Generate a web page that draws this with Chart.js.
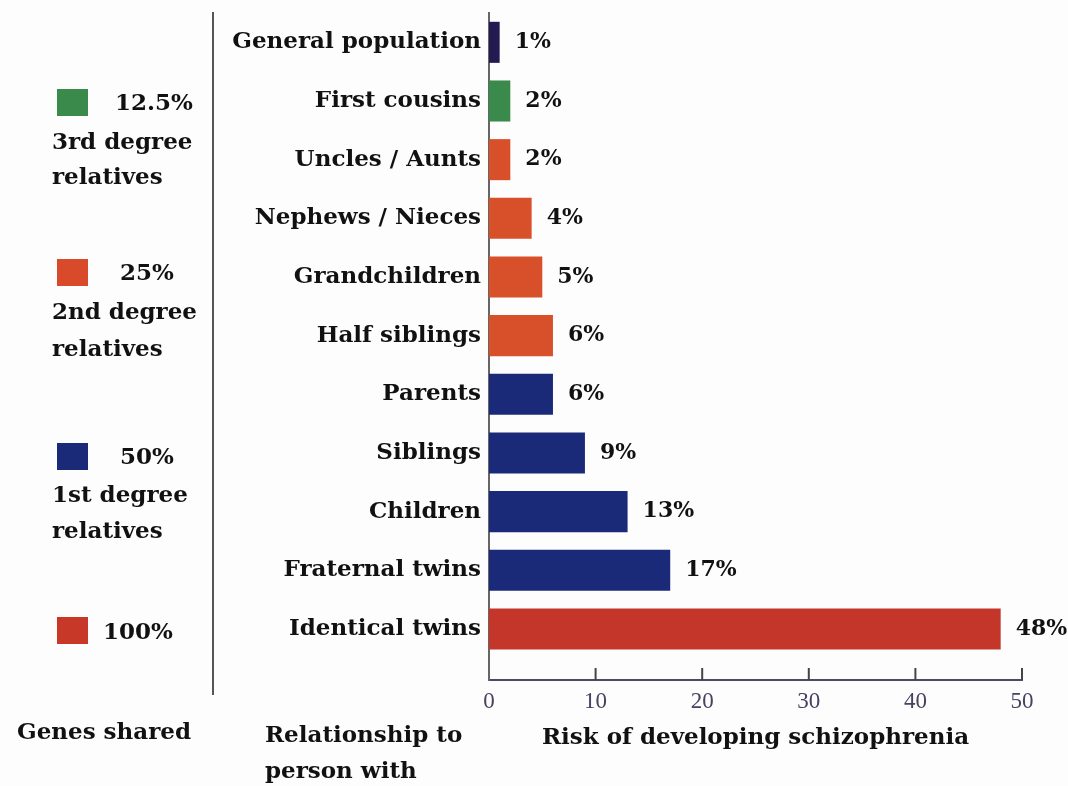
<!DOCTYPE html>
<html>
<head>
<meta charset="utf-8">
<script src="https://cdn.jsdelivr.net/npm/chart.js@4"></script>
<style>
  body { margin: 0; background: #fdfdfd; }
  #wrap { position: relative; width: 1068px; height: 786px; }
  #chart { position: absolute; left: 0; top: 0; }
  .txt { position: absolute; font: bold 23px "DejaVu Serif", serif; color: #111; white-space: nowrap; line-height: 1; }
  .sq { position: absolute; width: 31px; height: 27px; }
  #sep { position: absolute; left: 212px; top: 12px; width: 2px; height: 683px; background: #555; }
</style>
</head>
<body>
<div id="wrap">
  <canvas id="chart" width="1068" height="786"></canvas>
  <div id="sep"></div>

  <div class="sq" style="left:57px;top:89px;background:#3a8a4c"></div>
  <div class="txt" style="left:115px;top:90px">12.5%</div>
  <div class="txt" style="left:52px;top:129px">3rd degree</div>
  <div class="txt" style="left:52px;top:164px">relatives</div>

  <div class="sq" style="left:57px;top:259px;background:#d84a2a"></div>
  <div class="txt" style="left:120px;top:260px">25%</div>
  <div class="txt" style="left:52px;top:299px">2nd degree</div>
  <div class="txt" style="left:52px;top:336px">relatives</div>

  <div class="sq" style="left:57px;top:443px;background:#1a2a78"></div>
  <div class="txt" style="left:120px;top:444px">50%</div>
  <div class="txt" style="left:52px;top:482px">1st degree</div>
  <div class="txt" style="left:52px;top:518px">relatives</div>

  <div class="sq" style="left:57px;top:617px;background:#c83828"></div>
  <div class="txt" style="left:103px;top:619px">100%</div>

  <div class="txt" style="left:17px;top:719px">Genes shared</div>
  <div class="txt" style="left:265px;top:722px">Relationship to</div>
  <div class="txt" style="left:265px;top:758px">person with</div>
</div>
<script>
// relationship categories, top to bottom
const relationships = [
  'General population', 'First cousins', 'Uncles / Aunts', 'Nephews / Nieces',
  'Grandchildren', 'Half siblings', 'Parents', 'Siblings', 'Children',
  'Fraternal twins', 'Identical twins'
];
// lifetime risk of schizophrenia, percent
const risk = [1, 2, 2, 4, 5, 6, 6, 9, 13, 17, 48];
// colour per bar, by genes shared
const barColors = [
  '#241a52', '#3a8a4c', '#d8502a', '#d8502a', '#d8502a', '#d8502a',
  '#1a2a78', '#1a2a78', '#1a2a78', '#1a2a78', '#c4362a'
];
const xTicks = [0, 10, 20, 30, 40, 50];

const serif = '"DejaVu Serif", serif';

// value labels next to bars and the small inward tick marks on the x axis
const extras = {
  id: 'extras',
  afterDatasetsDraw(chart) {
    const ctx = chart.ctx;
    const meta = chart.getDatasetMeta(0);
    ctx.save();
    ctx.font = 'bold 22px ' + serif;
    ctx.fillStyle = '#111';
    ctx.textBaseline = 'middle';
    meta.data.forEach((bar, i) => {
      ctx.fillText(risk[i] + '%', bar.x + 15, bar.y);
    });
    const xs = chart.scales.x;
    ctx.strokeStyle = '#444';
    ctx.lineWidth = 2;
    xs.ticks.forEach(t => {
      if (t.value === 0) return;
      const px = xs.getPixelForValue(t.value);
      ctx.beginPath();
      ctx.moveTo(px, xs.top);
      ctx.lineTo(px, xs.top - 12);
      ctx.stroke();
    });
    ctx.restore();
  }
};

new Chart(document.getElementById('chart').getContext('2d'), {
  type: 'bar',
  data: {
    datasets: [{
      data: risk.map((v, i) => ({ x: v, y: i })),
      backgroundColor: barColors,
      borderWidth: 0,
      barPercentage: 0.7,
      categoryPercentage: 1
    }]
  },
  options: {
    indexAxis: 'y',
    responsive: false,
    animation: false,
    layout: { padding: { top: 13, right: 46, left: 0, bottom: 0 } },
    plugins: { legend: { display: false }, tooltip: { enabled: false } },
    scales: {
      x: {
        type: 'linear',
        min: 0,
        max: 50,
        afterBuildTicks: s => { s.ticks = xTicks.map(v => ({ value: v })); },
        afterFit: s => { s.height = 106; },
        grid: { display: false, drawTicks: false },
        border: { color: '#4a4a66', width: 2 },
        ticks: {
          padding: 8,
          color: '#4a4060',
          font: { family: '"Liberation Serif", serif', size: 23 }
        },
        title: {
          display: true,
          text: 'Risk of developing schizophrenia',
          color: '#111',
          font: { family: serif, size: 23, weight: 'bold' },
          padding: { top: 10, bottom: 34 }
        }
      },
      y: {
        type: 'linear',
        reverse: true,
        offset: false,
        min: -0.5,
        max: 10.87,
        afterBuildTicks: s => { s.ticks = relationships.map((c, i) => ({ value: i })); },
        afterFit: s => { s.width = 489; s.paddingTop = 0; s.paddingBottom = 0; },
        grid: { display: false, drawTicks: false },
        border: { color: '#666', width: 2 },
        ticks: {
          autoSkip: false,
          padding: 8,
          color: '#111',
          font: { family: serif, size: 23, weight: 'bold' },
          callback: v => relationships[v]
        }
      }
    }
  },
  plugins: [extras]
});
</script>
</body>
</html>
